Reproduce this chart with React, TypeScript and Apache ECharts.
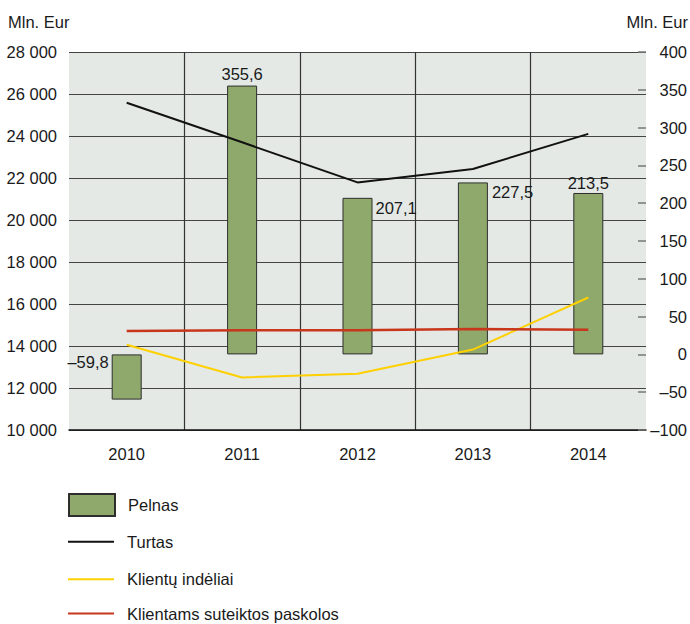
import React, { useEffect, useRef } from "react";
import * as echarts from "echarts";

const years = ["2010", "2011", "2012", "2013", "2014"];
const pelnas = [-59.8, 355.6, 207.1, 227.5, 213.5];
const turtas = [25580, 23700, 21790, 22430, 24100];
const indeliai = [14060, 12500, 12680, 13830, 16310];
const paskolos = [14715, 14745, 14755, 14810, 14775];

const seriesNames = ["Pelnas", "Turtas", "Klientų indėliai", "Klientams suteiktos paskolos"];
const axisTitle = "Mln. Eur";

const FONT = "'Liberation Sans', Arial, sans-serif";
const FS = 16.5;
const TXT = "#1a1a1a";

// label placement for each bar value label
const barLabelPlacement: any[] = [
  { position: "left", distance: 3, offset: [0, -15] },
  { position: "top", distance: 3, offset: [0, 0] },
  { position: "right", distance: 3, offset: [0, -68] },
  { position: "right", distance: 4, offset: [0, -76] },
  { position: "top", distance: 1, offset: [0, 0] },
];

// vertical centre of each legend row
const legendRowCentre = [504, 541.7, 579.2, 613.5];

const fmtThousands = (v: number) => String(v).replace(/\B(?=(\d{3})+(?!\d))/g, " ");
const fmtSigned = (v: number) => (v < 0 ? "–" + Math.abs(v) : String(v));
const fmtDec = (v: number) => (v < 0 ? "–" : "") + Math.abs(v).toFixed(1).replace(".", ",");

export default function App() {
  const ref = useRef<HTMLDivElement>(null);
  useEffect(() => {
    document.body.style.margin = "0";
    const chart = echarts.init(ref.current!, null, { renderer: "svg" });
    const legendText = { fontFamily: FONT, fontSize: FS, color: TXT, lineHeight: 20, padding: [0, 0, 0, 8] };
    const legends = seriesNames.map((name, i) => ({
      orient: "vertical",
      left: 68,
      top: legendRowCentre[i] - (i === 0 ? 11 : 10),
      padding: 0,
      icon: "rect",
      itemWidth: 46,
      itemHeight: i === 0 ? 22 : 2,
      textStyle: legendText,
      data: [name],
    }));
    const option: any = {
      animation: false,
      backgroundColor: "#ffffff",
      textStyle: { fontFamily: FONT },
      grid: {
        left: 69,
        right: 43,
        top: 52,
        bottom: 194,
        show: true,
        backgroundColor: "#e4e9e6",
        borderWidth: 0,
        containLabel: false,
      },
      graphic: [
        {
          type: "text",
          left: 8,
          top: 13,
          style: { text: axisTitle, font: `${FS}px ${FONT}`, fill: TXT },
        },
        {
          type: "text",
          right: 2,
          top: 13,
          style: { text: axisTitle, font: `${FS}px ${FONT}`, fill: TXT },
        },
      ],
      legend: legends,
      xAxis: {
        type: "category",
        data: years,
        boundaryGap: true,
        axisLine: { show: true, onZero: false, lineStyle: { color: "#111", width: 1.5 } },
        axisTick: { show: false },
        axisLabel: { fontFamily: FONT, fontSize: FS, color: TXT, margin: 15 },
        splitLine: {
          show: true,
          showMinLine: false,
          showMaxLine: false,
          lineStyle: { color: "#333", width: 1.2 },
        },
      },
      yAxis: [
        {
          type: "value",
          min: 10000,
          max: 28000,
          interval: 2000,
          axisLine: { show: false },
          axisTick: { show: false },
          axisLabel: {
            fontFamily: FONT,
            fontSize: FS,
            color: TXT,
            margin: 12,
            formatter: fmtThousands,
          },
          splitLine: { show: true, lineStyle: { color: "#444", width: 1.2 } },
        },
        {
          type: "value",
          min: -100,
          max: 400,
          interval: 50,
          position: "right",
          axisLine: { show: false },
          axisTick: { show: true, inside: true, length: 8, lineStyle: { color: "#777", width: 1.5 } },
          axisLabel: {
            fontFamily: FONT,
            fontSize: FS,
            color: TXT,
            margin: 41,
            align: "right",
            formatter: fmtSigned,
          },
          splitLine: { show: false },
        },
      ],
      series: [
        {
          name: seriesNames[0],
          type: "bar",
          yAxisIndex: 1,
          barWidth: 30,
          itemStyle: { color: "#8ea96b", borderColor: "#2e2e2e", borderWidth: 1 },
          label: {
            show: true,
            fontFamily: FONT,
            fontSize: FS,
            color: TXT,
            formatter: (p: any) => fmtDec(p.value),
          },
          data: pelnas.map((v, i) => ({
            value: v,
            label: { ...barLabelPlacement[i] },
          })),
          z: 1,
        },
        {
          name: seriesNames[1],
          type: "line",
          yAxisIndex: 0,
          symbol: "none",
          data: turtas,
          lineStyle: { color: "#111111", width: 2 },
          itemStyle: { color: "#111111" },
          z: 3,
        },
        {
          name: seriesNames[2],
          type: "line",
          yAxisIndex: 0,
          symbol: "none",
          data: indeliai,
          lineStyle: { color: "#ffd000", width: 2 },
          itemStyle: { color: "#ffd000" },
          z: 3,
        },
        {
          name: seriesNames[3],
          type: "line",
          yAxisIndex: 0,
          symbol: "none",
          data: paskolos,
          lineStyle: { color: "#c8361c", width: 2.5 },
          itemStyle: { color: "#c8361c" },
          z: 3,
        },
      ],
    };
    chart.setOption(option);
    return () => chart.dispose();
  }, []);
  return <div ref={ref} style={{ width: 690, height: 624 }} />;
}
